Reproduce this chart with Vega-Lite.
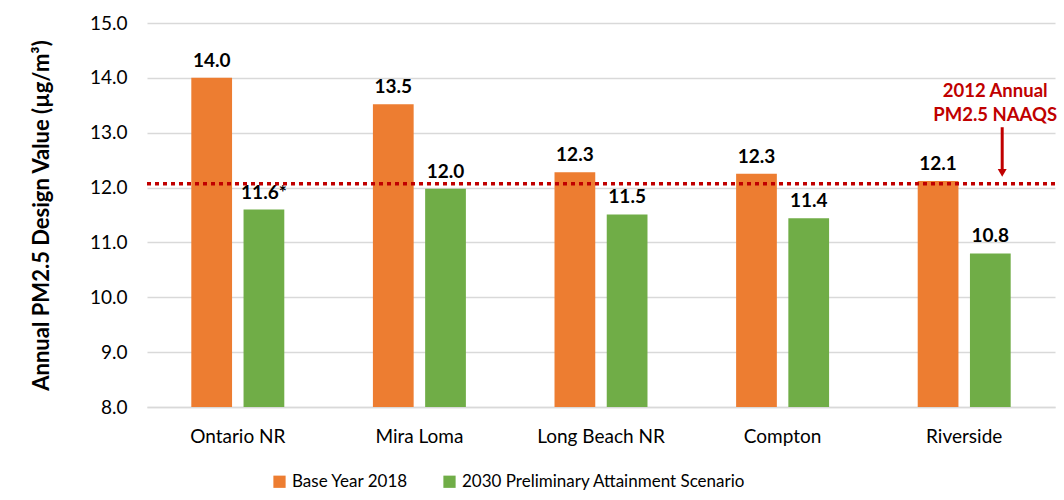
{
  "$schema": "https://vega.github.io/schema/vega-lite/v6.json",
  "autosize": "none",
  "width": 908,
  "height": 384,
  "padding": {"left": 147, "top": 23, "right": 9, "bottom": 93},
  "background": "white",
  "config": {
    "font": "Lato",
    "view": {"stroke": null},
    "axis": {"labelFont": "Lato", "titleFont": "Lato"}
  },
  "datasets": {
    "bars": [
      {"site": "Ontario NR", "series": "Base Year 2018", "value": 14.0, "label": "14.0"},
      {"site": "Ontario NR", "series": "2030 Preliminary Attainment Scenario", "value": 11.6, "label": "11.6*"},
      {"site": "Mira Loma", "series": "Base Year 2018", "value": 13.52, "label": "13.5"},
      {"site": "Mira Loma", "series": "2030 Preliminary Attainment Scenario", "value": 11.98, "label": "12.0"},
      {"site": "Long Beach NR", "series": "Base Year 2018", "value": 12.28, "label": "12.3"},
      {"site": "Long Beach NR", "series": "2030 Preliminary Attainment Scenario", "value": 11.51, "label": "11.5"},
      {"site": "Compton", "series": "Base Year 2018", "value": 12.25, "label": "12.3"},
      {"site": "Compton", "series": "2030 Preliminary Attainment Scenario", "value": 11.44, "label": "11.4"},
      {"site": "Riverside", "series": "Base Year 2018", "value": 12.12, "label": "12.1"},
      {"site": "Riverside", "series": "2030 Preliminary Attainment Scenario", "value": 10.8, "label": "10.8"}
    ]
  },
  "layer": [
    {
      "data": {"name": "bars"},
      "mark": {"type": "bar"},
      "encoding": {
        "x": {
          "field": "site", "type": "nominal",
          "scale": {"domain": ["Ontario NR", "Mira Loma", "Long Beach NR", "Compton", "Riverside"], "paddingInner": 0.488, "paddingOuter": 0.244},
          "axis": {"title": null, "labelAngle": 0, "labelFontSize": 19, "labelColor": "#000000", "labelPadding": 20, "ticks": false, "domainColor": "#d9d9d9", "domainWidth": 1.5}
        },
        "xOffset": {
          "field": "series", "type": "nominal",
          "scale": {"domain": ["Base Year 2018", "2030 Preliminary Attainment Scenario"], "paddingInner": 0.22, "paddingOuter": 0}
        },
        "y": {
          "field": "value", "type": "quantitative",
          "scale": {"domain": [8, 15], "nice": false, "zero": false},
          "axis": {
            "title": "Annual PM2.5 Design Value (µg/m³)",
            "titleFontSize": 22, "titleFontWeight": "bold", "titleColor": "#000000", "titlePadding": 36,
            "tickCount": 7, "format": ".1f", "labelFontSize": 19, "labelColor": "#000000", "labelPadding": 20,
            "ticks": false, "domain": false, "gridColor": "#d9d9d9", "gridWidth": 1.5
          }
        },
        "y2": {"datum": 8},
        "color": {
          "field": "series", "type": "nominal",
          "scale": {"domain": ["Base Year 2018", "2030 Preliminary Attainment Scenario"], "range": ["#ED7D31", "#70AD47"]},
          "legend": {
            "title": null, "orient": "none", "direction": "horizontal", "legendX": 124, "legendY": 450,
            "symbolType": "square", "symbolSize": 150, "symbolStrokeWidth": 0, "labelFontSize": 17, "labelColor": "#000000",
            "labelOffset": 4, "columnPadding": 32, "labelLimit": 0
          }
        }
      }
    },
    {
      "data": {"name": "bars"},
      "mark": {"type": "text", "baseline": "bottom", "dy": -7, "fontSize": 19, "fontWeight": "bold", "color": "#000000"},
      "encoding": {
        "x": {"field": "site", "type": "nominal"},
        "xOffset": {"field": "series", "type": "nominal"},
        "y": {"field": "value", "type": "quantitative"},
        "text": {"field": "label"}
      }
    },
    {
      "data": {"values": [{"naaqs": 12.07}]},
      "mark": {"type": "rule", "color": "#C00000", "strokeWidth": 3.5, "strokeDash": [4, 4]},
      "encoding": {"y": {"field": "naaqs", "type": "quantitative"}}
    },
    {
      "data": {"values": [{"site": "Riverside", "top": 13.1, "bottom": 12.3}]},
      "mark": {"type": "rule", "color": "#C00000", "strokeWidth": 3, "xOffset": 38},
      "encoding": {
        "x": {"field": "site", "type": "nominal"},
        "y": {"field": "top", "type": "quantitative"},
        "y2": {"field": "bottom"}
      }
    },
    {
      "data": {"values": [{"site": "Riverside", "tip": 12.27}]},
      "mark": {"type": "point", "shape": "triangle-down", "filled": true, "color": "#C00000", "size": 80, "opacity": 1, "xOffset": 38},
      "encoding": {
        "x": {"field": "site", "type": "nominal"},
        "y": {"field": "tip", "type": "quantitative"}
      }
    },
    {
      "data": {"values": [
        {"site": "Riverside", "pos": 13.76, "note": "2012 Annual"},
        {"site": "Riverside", "pos": 13.32, "note": "PM2.5 NAAQS"}
      ]},
      "mark": {"type": "text", "color": "#C00000", "fontSize": 18.5, "fontWeight": "bold", "baseline": "middle", "xOffset": 31},
      "encoding": {
        "x": {"field": "site", "type": "nominal"},
        "y": {"field": "pos", "type": "quantitative"},
        "text": {"field": "note"}
      }
    }
  ]
}
